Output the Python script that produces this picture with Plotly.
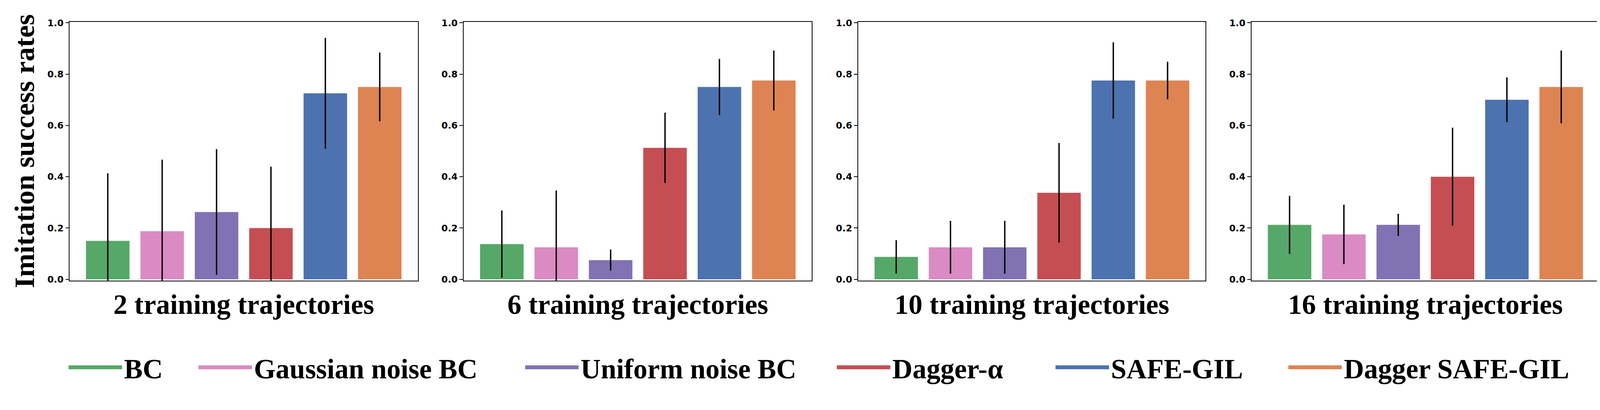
import plotly.graph_objects as go
from plotly.subplots import make_subplots

# the browser shows the page slightly enlarged and with an 8px body margin,
# so positions read off the picture are mapped back to figure pixels
PAGE_W, PAGE_H = 4184, 1049
S = 1.02
PAD = 8
W = round(PAGE_W / S) - 2 * PAD + 4
H = round(PAGE_H / S) - 2 * PAD

methods = ["BC", "Gaussian noise BC", "Uniform noise BC", "Dagger-α", "SAFE-GIL", "Dagger SAFE-GIL"]
colors = ["#55A868", "#DA8BC3", "#8172B3", "#C44E52", "#4C72B0", "#DD8452"]
panel_titles = ["2 training trajectories", "6 training trajectories",
                "10 training trajectories", "16 training trajectories"]

# mean success rate and error (half-length of the bar) for each method
rates_2 = [0.15, 0.1875, 0.2625, 0.20, 0.725, 0.75]
err_2 = [0.263, 0.279, 0.245, 0.239, 0.216, 0.134]
rates_6 = [0.1375, 0.125, 0.075, 0.5125, 0.75, 0.775]
err_6 = [0.131, 0.221, 0.041, 0.137, 0.109, 0.117]
rates_10 = [0.0875, 0.125, 0.125, 0.3375, 0.775, 0.775]
err_10 = [0.065, 0.103, 0.103, 0.194, 0.149, 0.073]
rates_16 = [0.2125, 0.175, 0.2125, 0.40, 0.70, 0.75]
err_16 = [0.113, 0.116, 0.043, 0.191, 0.087, 0.142]

yticks = [0.0, 0.2, 0.4, 0.6, 0.8, 1.0]

rates = [rates_2, rates_6, rates_10, rates_16]
errs = [err_2, err_6, err_10, err_16]

# picture-pixel layout of the four panels
panel_px = [(182, 1091), (1211, 2120), (2241, 3148), (3268, 4176)]
top_px, bottom_px = 57, 732


def fx(px):
    return min(1.0, max(0.0, (px / S - PAD) / W))


def fy(py):
    return min(1.0, max(0.0, 1 - (py / S - PAD) / H))


def sz(v):
    return v / S


fig = make_subplots(rows=1, cols=4)

serif = "Liberation Serif"

for i in range(4):
    fig.add_trace(go.Bar(
        x=methods, y=rates[i],
        marker=dict(color=colors, line=dict(width=0)),
        error_y=dict(type="data", array=errs[i], color="black", thickness=3.5, width=0),
        showlegend=False,
    ), row=1, col=i + 1)

    x0, x1 = panel_px[i]
    ax = "xaxis" if i == 0 else "xaxis%d" % (i + 1)
    ay = "yaxis" if i == 0 else "yaxis%d" % (i + 1)
    fig.layout[ax].update(
        domain=[fx(x0), fx(x1)], type="category", categoryorder="array", categoryarray=methods,
        range=[-0.7, 5.7], showticklabels=False, ticks="", showgrid=False, zeroline=False,
        showline=True, mirror=True, linecolor="black", linewidth=2, automargin=False,
        title=dict(text=panel_titles[i], standoff=sz(35),
                   font=dict(family=serif, size=sz(73), color="black", weight="bold")),
    )
    fig.layout[ay].update(
        domain=[fy(bottom_px), fy(top_px)], range=[-0.0045, 1.0037],
        tickvals=yticks, tickformat=".1f", ticks="outside", ticklen=sz(9), tickwidth=2,
        tickcolor="black", showgrid=False, zeroline=False, automargin=False,
        showline=True, mirror=True, linecolor="black", linewidth=2,
        tickfont=dict(family="DejaVu Sans", size=sz(24), color="black", weight="bold"),
    )

fig.layout.yaxis.title = dict(text="Imitation success rates", standoff=sz(10),
                              font=dict(family=serif, size=sz(74), color="black", weight="bold"))

# legend: one small legend per method so each entry sits where it does in the figure
legend_x_px = [187, 526, 1379, 2193, 2764, 3372]
for j, m in enumerate(methods):
    lg = "legend" if j == 0 else "legend%d" % (j + 1)
    fig.add_trace(go.Scatter(
        x=[None], y=[None], mode="lines", name=m,
        line=dict(color=colors[j], width=13), legend=lg,
    ), row=1, col=1)
    fig.layout[lg] = dict(
        x=fx(legend_x_px[j] - 13), xanchor="left", y=fy(959), yanchor="middle",
        orientation="h", itemwidth=round(sz(140)), bgcolor="rgba(0,0,0,0)", borderwidth=0,
        font=dict(family=serif, size=sz(73), color="black", weight="bold"),
    )

fig.update_layout(
    width=W, height=H,
    margin=dict(l=0, r=0, t=0, b=0),
    paper_bgcolor="white", plot_bgcolor="white",
    bargap=0.2,
)

fig.write_html("out.html")
